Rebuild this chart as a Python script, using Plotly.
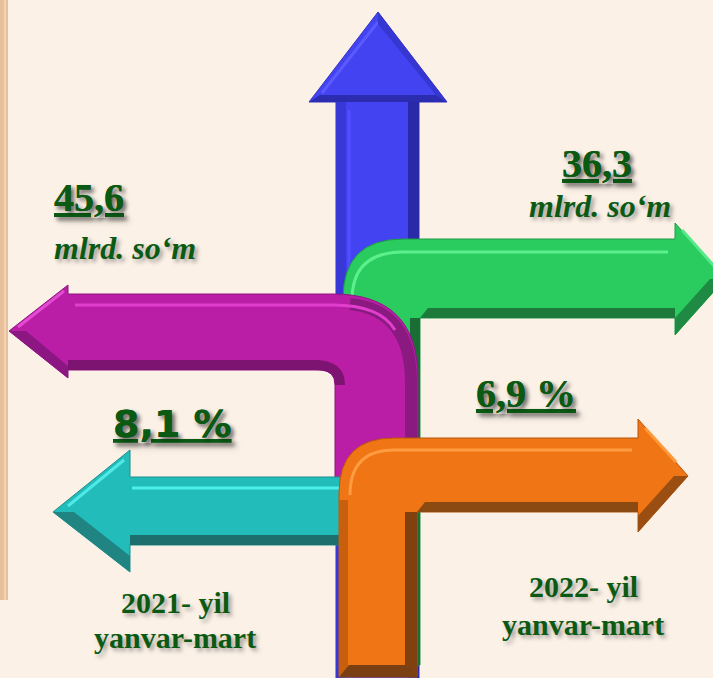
import plotly.graph_objects as go

# ---- data (text content of the infographic) ----
years = ["2021- yil", "2022- yil"]
period = ["yanvar-mart", "yanvar-mart"]
amounts = ["45,6", "36,3"]          # mlrd. so'm
unit = "mlrd. so\u2018m"
growth = ["8,1 %", "6,9 %"]

W, H = 713, 678
BG = "#FBF1E7"
TXT = "#0B5A14"
SHADOW = "3px 3px 4px rgba(0,0,0,0.35)"

shapes = []


def poly(pts, fill, line=None, lw=0):
    d = "M " + " L ".join(f"{x},{y}" for x, y in pts) + " Z"
    shapes.append(dict(type="path", path=d, fillcolor=fill,
                       line=dict(color=line or fill, width=lw), layer="above"))


def path(d, fill, line=None, lw=0):
    shapes.append(dict(type="path", path=d, fillcolor=fill,
                       line=dict(color=line or fill, width=lw), layer="above"))


def stroke(d, color, lw):
    shapes.append(dict(type="path", path=d, line=dict(color=color, width=lw), layer="above"))


# left tan strip
poly([(0, 0), (8, 0), (8, 600), (0, 600)], "#E8C09B")
stroke("M 5,0 L 5,600", "#F1D3B6", 2)

# ---- blue up arrow ----
poly([(336, 678), (336, 102), (309, 102), (378, 12), (447, 102), (419, 102), (419, 678)],
     "#4343F2", "#3333C8", 1)
poly([(336, 102), (346, 102), (346, 678), (336, 678)], "#3838D6")
poly([(408, 102), (419, 102), (419, 678), (408, 678)], "#2A2AA8")
stroke("M 349,110 L 349,678", "#5050FF", 3)
poly([(309, 102), (447, 102), (436, 95), (320, 95)], "#2C2CB0")
stroke("M 322,93 L 378,22", "#5A5AFF", 3)
poly([(378, 12), (447, 102), (436, 95), (378, 24)], "#3636D0")

# ---- green L arrow (right) ----
path("M 343,665 L 343,299 Q 343,239 403,239 L 675,239 L 675,223 L 725,279 "
     "L 675,335 L 675,318 L 420,318 L 420,665 Z", "#2ACB5F", "#1F9A48", 1)
poly([(420, 318), (675, 318), (675, 308), (428, 308)], "#1C7A3A")
poly([(410, 318), (420, 318), (420, 665), (410, 665)], "#1A6E35")
poly([(675, 335), (725, 279), (710, 279), (675, 318)], "#1F8A43")
stroke("M 352,300 Q 352,252 403,252 L 668,252", "#5CF08D", 3)
stroke("M 682,230 L 714,266", "#56E889", 3)

# ---- magenta L arrow (left) ----
path("M 68,285 L 9,331 L 68,378 L 68,370 L 320,370 Q 335,370 335,385 L 335,480 "
     "L 418,480 L 418,379 Q 418,294 333,294 L 68,294 Z", "#BA1DA6", "#8E1580", 1)
poly([(68, 370), (320, 370), (320, 360), (68, 360)], "#7E1472")
stroke("M 315,365 Q 340,365 340,385", "#7E1472", 10)
stroke("M 350,304 Q 410,310 411,380 L 411,480", "#8A1A80", 12)
stroke("M 75,305 L 333,305 Q 380,305 395,330", "#E13ECE", 3)
poly([(68, 378), (9, 331), (26, 331), (68, 366)], "#8C1783")
stroke("M 64,291 L 18,327", "#E24AD2", 3)

# ---- cyan left arrow ----
poly([(130, 450), (53, 512), (130, 572), (130, 545), (345, 545), (345, 477), (130, 477)],
     "#22BDBA", "#1A8F8C", 1)
poly([(130, 545), (345, 545), (345, 535), (130, 535)], "#1D6F6E")
poly([(130, 572), (53, 512), (74, 512), (130, 556)], "#1F8482")
stroke("M 132,488 L 345,488", "#4DEFEA", 3)
stroke("M 124,460 L 68,506", "#4FEAE6", 3)

# ---- orange L arrow (right) ----
path("M 339,677 L 339,493 Q 339,438 394,438 L 638,438 L 638,419 L 688,476 "
     "L 638,532 L 638,512 L 417,512 L 417,677 Z", "#F07514", "#B8570C", 1)
poly([(417, 512), (638, 512), (638, 502), (425, 502)], "#8B4A12")
poly([(405, 512), (417, 512), (417, 677), (405, 677)], "#80400F")
poly([(339, 500), (348, 500), (348, 677), (339, 677)], "#C85F0C")
poly([(339, 677), (417, 677), (405, 665), (349, 665)], "#7A3F12")
poly([(638, 532), (688, 476), (674, 476), (638, 516)], "#9A4E12")
stroke("M 350,495 Q 350,450 394,450 L 632,450", "#FF9B40", 3)
stroke("M 645,428 L 676,462", "#FF9A3C", 3)

# ---- text ----
annotations = []


def label(txt, x, baseline, size, family, bold=True, italic=False, under=False,
          xanchor="left", desc=0.22):
    t = txt
    if italic:
        t = f"<i>{t}</i>"
    if bold:
        t = f"<b>{t}</b>"
    annotations.append(dict(
        x=x, y=baseline + desc * size + 1, xref="x", yref="y", text=t,
        showarrow=False, xanchor=xanchor, yanchor="bottom",
        font=dict(family=family, size=size, color=TXT, shadow=SHADOW,
                  lineposition="under" if under else "none"),
    ))


SERIF = "Liberation Serif, Times New Roman, serif"
SANS = "DejaVu Sans, Arial, sans-serif"

label(amounts[0], 52, 212, 40, SERIF, under=True)
label(unit, 52, 260, 32, SERIF, italic=True)
label(amounts[1], 560, 178, 40, SERIF, under=True)
label(unit, 527, 218, 32, SERIF, italic=True)
label(growth[1], 474, 408, 40, SERIF, under=True)
label(growth[0], 111, 438, 38, SANS, under=True, desc=0.24)
label(years[0], 175, 613, 30, SERIF, xanchor="center")
label(period[0], 175, 648, 30, SERIF, xanchor="center")
label(years[1], 583, 597, 30, SERIF, xanchor="center")
label(period[1], 583, 635, 30, SERIF, xanchor="center")

fig = go.Figure(go.Scatter(x=[None], y=[None], showlegend=False, hoverinfo="skip"))
fig.update_layout(
    width=W, height=H,
    margin=dict(l=0, r=0, t=0, b=0),
    paper_bgcolor=BG, plot_bgcolor=BG,
    xaxis=dict(range=[0, W], visible=False, fixedrange=True),
    yaxis=dict(range=[H, 0], visible=False, fixedrange=True),
    shapes=shapes, annotations=annotations, showlegend=False,
)
fig.write_html("out.html", config=dict(displayModeBar=False),
               post_script="document.body.style.margin='0';"
                           "document.body.style.background='" + BG + "';")
